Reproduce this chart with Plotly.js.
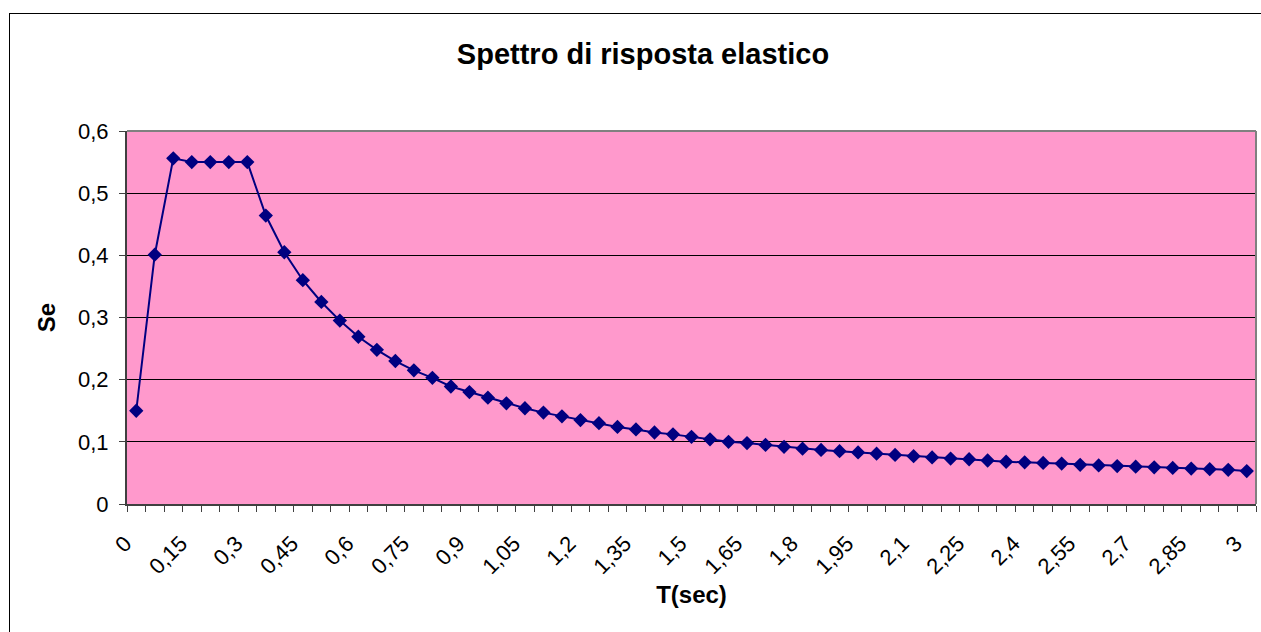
<!DOCTYPE html>
<html>
<head>
<meta charset="utf-8">
<script src="https://cdn.plot.ly/plotly-3.0.1.min.js"></script>
<style>
  html, body { margin: 0; padding: 0; background: #ffffff; overflow: hidden; }
  #chart { position: absolute; left: 0; top: 0; width: 1261px; height: 632px; }
  #frame { position: absolute; left: 9px; top: 13px; width: 1400px; height: 800px;
           border-left: 1px solid #000; border-top: 1px solid #000; pointer-events: none; }
</style>
</head>
<body>
<div id="chart"></div>
<div id="frame"></div>
<script>
// Periods T (sec), one category each
const periods = [0, 0.05, 0.1, 0.15, 0.2, 0.25, 0.3, 0.35, 0.4, 0.45, 0.5, 0.55, 0.6, 0.65, 0.7, 0.75,
  0.8, 0.85, 0.9, 0.95, 1, 1.05, 1.1, 1.15, 1.2, 1.25, 1.3, 1.35, 1.4, 1.45, 1.5, 1.55, 1.6, 1.65,
  1.7, 1.75, 1.8, 1.85, 1.9, 1.95, 2, 2.05, 2.1, 2.15, 2.2, 2.25, 2.3, 2.35, 2.4, 2.45, 2.5, 2.55,
  2.6, 2.65, 2.7, 2.75, 2.8, 2.85, 2.9, 2.95, 3];

// Elastic response spectrum Se
const seValues = [0.150, 0.401, 0.556, 0.550, 0.550, 0.550, 0.550, 0.464, 0.405, 0.360, 0.325,
  0.295, 0.269, 0.248, 0.230, 0.215, 0.203, 0.189, 0.180, 0.171, 0.162, 0.154, 0.147, 0.141,
  0.135, 0.130, 0.124, 0.120, 0.115, 0.112, 0.108, 0.104, 0.100, 0.098, 0.095, 0.092, 0.089,
  0.087, 0.085, 0.083, 0.081, 0.079, 0.077, 0.075, 0.073, 0.072, 0.070, 0.068, 0.067, 0.066,
  0.065, 0.063, 0.062, 0.061, 0.060, 0.059, 0.058, 0.057, 0.056, 0.055, 0.053];

// Labelled periods on the x axis
const xTickVals = [0, 0.15, 0.3, 0.45, 0.6, 0.75, 0.9, 1.05, 1.2, 1.35, 1.5, 1.65, 1.8, 1.95,
  2.1, 2.25, 2.4, 2.55, 2.7, 2.85, 3];
const xTickText = ['0', '0,15', '0,3', '0,45', '0,6', '0,75', '0,9', '1,05', '1,2', '1,35', '1,5',
  '1,65', '1,8', '1,95', '2,1', '2,25', '2,4', '2,55', '2,7', '2,85', '3'];

const FONT = '"Liberation Sans", Arial, sans-serif';

const trace = {
  x: periods,
  y: seValues,
  type: 'scatter',
  mode: 'lines+markers',
  line: { color: '#000080', width: 2 },
  marker: { symbol: 'diamond', size: 11, color: '#000080' },
  hoverinfo: 'x+y'
};

const layout = {
  width: 1261,
  height: 632,
  margin: { l: 127, r: 5, t: 131, b: 128 },
  paper_bgcolor: 'rgba(0,0,0,0)',
  plot_bgcolor: '#FF99CC',
  separators: ',.',
  showlegend: false,
  font: { family: FONT, color: '#000' },
  title: {
    text: 'Spettro di risposta elastico',
    font: { family: FONT, size: 29, weight: 'bold', color: '#000' },
    x: 643 / 1261, xref: 'container', xanchor: 'center',
    y: 1 - 54 / 632, yref: 'container', yanchor: 'middle'
  },
  xaxis: {
    type: 'linear',
    range: [-0.025, 3.025],
    tickmode: 'array',
    tickvals: xTickVals,
    ticktext: xTickText,
    tickangle: -45,
    ticks: '',
    ticklabelstandoff: 16,
    ticklabelshift: -11,
    tickfont: { family: FONT, size: 22, color: '#000' },
    showgrid: false,
    zeroline: false,
    showline: true,
    linecolor: '#404040',
    linewidth: 2,
    minor: { tickmode: 'linear', tick0: -0.025, dtick: 0.05, ticks: 'outside', ticklen: 6, tickcolor: '#404040', tickwidth: 1, showgrid: false },
    title: { text: 'T(sec)', font: { family: FONT, size: 24, weight: 'bold', color: '#000' }, standoff: 8 },
    automargin: false,
    fixedrange: true
  },
  yaxis: {
    range: [0, 0.6],
    tickmode: 'linear',
    tick0: 0,
    dtick: 0.1,
    ticks: 'outside',
    ticklen: 6,
    tickcolor: '#404040',
    ticklabelstandoff: 6,
    tickfont: { family: FONT, size: 22, color: '#000' },
    showgrid: true,
    gridcolor: '#000000',
    gridwidth: 1,
    zeroline: false,
    showline: true,
    linecolor: '#404040',
    linewidth: 2,
    title: { text: 'Se', font: { family: FONT, size: 24, weight: 'bold', color: '#000' }, standoff: 16 },
    automargin: false,
    fixedrange: true
  },
  shapes: [
    { type: 'line', xref: 'paper', yref: 'paper', x0: 0, x1: 1, y0: 1, y1: 1, line: { color: '#808080', width: 2 } },
    { type: 'line', xref: 'paper', yref: 'paper', x0: 1, x1: 1, y0: 0, y1: 1, line: { color: '#808080', width: 2 } }
  ]
};

Plotly.newPlot('chart', [trace], layout, { displayModeBar: false, staticPlot: true });
</script>
</body>
</html>
